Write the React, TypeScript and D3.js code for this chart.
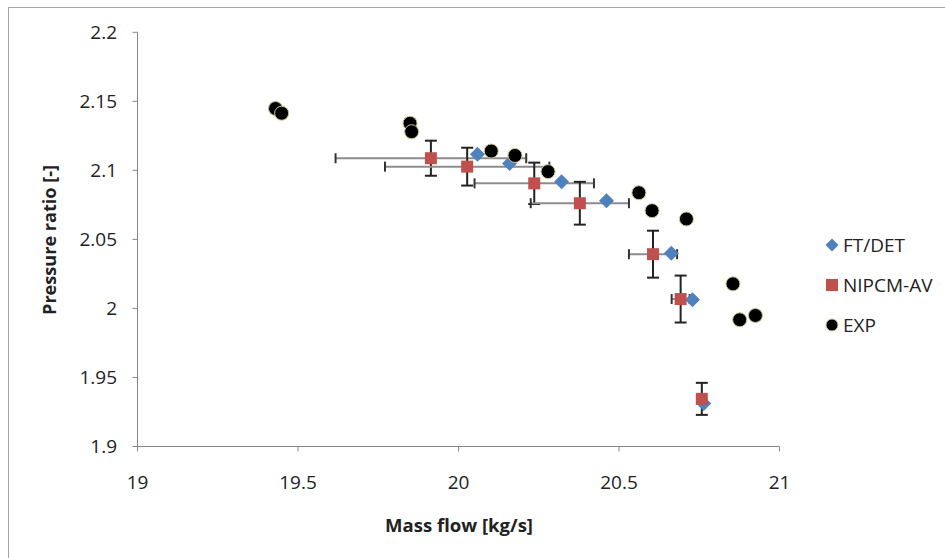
import React from "react";
import * as d3 from "d3";

const xTicks = [19, 19.5, 20, 20.5, 21];
const xTickLabels = ["19", "19.5", "20", "20.5", "21"];
const yTicks = [1.9, 1.95, 2.0, 2.05, 2.1, 2.15, 2.2];
const yTickLabels = ["1.9", "1.95", "2", "2.05", "2.1", "2.15", "2.2"];

const seriesNames = ["FT/DET", "NIPCM-AV", "EXP"];

const ftX = [20.059, 20.159, 20.321, 20.461, 20.663, 20.729, 20.764];
const ftY = [2.1117, 2.105, 2.0918, 2.078, 2.04, 2.0063, 1.9311];

const nipX = [19.914, 20.027, 20.236, 20.378, 20.606, 20.692, 20.758];
const nipY = [2.1088, 2.1027, 2.0906, 2.0762, 2.0393, 2.0068, 1.9345];
const nipErrX = [0.297, 0.256, 0.186, 0.153, 0.075, 0.028, 0];
const nipErrY = [0.0127, 0.0137, 0.015, 0.0155, 0.017, 0.017, 0.0116];

const expX = [19.43, 19.449, 19.849, 19.854, 20.102, 20.176, 20.279, 20.562, 20.603, 20.71, 20.855, 20.876, 20.925];
const expY = [2.1448, 2.1414, 2.1341, 2.128, 2.114, 2.1108, 2.0991, 2.0838, 2.0708, 2.0648, 2.0178, 1.9918, 1.9949];

const BLUE = "#4F81BD";
const RED = "#C0504D";
const FONT = "'Open Sans', 'DejaVu Sans', sans-serif";

export default function App() {
  const x = d3.scaleLinear().domain([19, 21]).range([137.5, 779.5]);
  const y = d3.scaleLinear().domain([1.9, 2.2]).range([446.5, 32.3]);
  const x0 = x(19);
  const y0 = y(1.9);

  const diamond = (cx: number, cy: number, r: number) =>
    `M${cx},${cy - r}L${cx + r},${cy}L${cx},${cy + r}L${cx - r},${cy}Z`;

  return (
    <svg
      width={945}
      height={558}
      style={{ position: "absolute", left: 0, top: 0, background: "#fff" }}
    >
      <rect x={0} y={0} width={945} height={558} fill="#fff" />
      {/* chart border */}
      <rect x={8.5} y={7.5} width={960} height={600} fill="none" stroke="#a6a6a6" strokeWidth={1} />

      {/* axes */}
      <line x1={x0} x2={x0} y1={y(2.2)} y2={y0} stroke="#868686" strokeWidth={1} />
      <line x1={x0} x2={x(21)} y1={y0} y2={y0} stroke="#868686" strokeWidth={1} />
      {yTicks.map((t, i) => (
        <g key={"yt" + i}>
          <line x1={x0 - 5} x2={x0} y1={y(t)} y2={y(t)} stroke="#868686" strokeWidth={1} />
          <text
            x={117}
            y={y(t) + 6.5}
            textAnchor="end"
            fontFamily={FONT}
            fontSize={19}
            fill="#222"
          >
            {yTickLabels[i]}
          </text>
        </g>
      ))}
      {xTicks.map((t, i) => (
        <g key={"xt" + i}>
          <line x1={x(t)} x2={x(t)} y1={y0} y2={y0 + 5} stroke="#868686" strokeWidth={1} />
          <text
            x={x(t)}
            y={489}
            textAnchor="middle"
            fontFamily={FONT}
            fontSize={19}
            fill="#222"
          >
            {xTickLabels[i]}
          </text>
        </g>
      ))}

      {/* axis titles */}
      <text
        x={459}
        y={532}
        textAnchor="middle"
        fontFamily={FONT}
        fontWeight="bold"
        fontSize={18}
        fill="#222"
        textLength={148}
        lengthAdjust="spacingAndGlyphs"
      >
        Mass flow [kg/s]
      </text>
      <text
        transform={`translate(56,240) rotate(-90)`}
        textAnchor="middle"
        fontFamily={FONT}
        fontWeight="bold"
        fontSize={18}
        fill="#222"
        textLength={150}
        lengthAdjust="spacingAndGlyphs"
      >
        Pressure ratio [-]
      </text>

      {/* error bars */}
      {nipX.map((v, i) => {
        const cx = x(v);
        const cy = y(nipY[i]);
        const xl = x(v - nipErrX[i]);
        const xr = x(v + nipErrX[i]);
        const yt = y(nipY[i] + nipErrY[i]);
        const yb = y(nipY[i] - nipErrY[i]);
        return (
          <g key={"eb" + i}>
            {nipErrX[i] > 0 && (
              <g>
                <line x1={xl} x2={xr} y1={cy} y2={cy} stroke="#8c8c8c" strokeWidth={2} />
                <line x1={xl} x2={xl} y1={cy - 5} y2={cy + 5} stroke="#333" strokeWidth={2} />
                <line x1={xr} x2={xr} y1={cy - 5} y2={cy + 5} stroke="#333" strokeWidth={2} />
              </g>
            )}
            <line x1={cx} x2={cx} y1={yt} y2={yb} stroke="#222" strokeWidth={2} />
            <line x1={cx - 6} x2={cx + 6} y1={yt} y2={yt} stroke="#222" strokeWidth={2} />
            <line x1={cx - 6} x2={cx + 6} y1={yb} y2={yb} stroke="#222" strokeWidth={2} />
          </g>
        );
      })}

      {/* FT/DET diamonds */}
      {ftX.map((v, i) => (
        <path key={"ft" + i} d={diamond(x(v), y(ftY[i]), 7.5)} fill={BLUE} />
      ))}
      {/* NIPCM-AV squares */}
      {nipX.map((v, i) => (
        <rect key={"np" + i} x={x(v) - 6} y={y(nipY[i]) - 6} width={12} height={12} fill={RED} />
      ))}
      {/* EXP circles */}
      {expX.map((v, i) => (
        <circle
          key={"ex" + i}
          cx={x(v)}
          cy={y(expY[i])}
          r={7}
          fill="#000"
          stroke="#c8c890"
          strokeWidth={1}
        />
      ))}

      {/* legend */}
      <path d={diamond(832, 245, 6.5)} fill={BLUE} />
      <text x={843} y={252} fontFamily={FONT} fontSize={19} fill="#222">
        {seriesNames[0]}
      </text>
      <rect x={826} y={279} width={12} height={12} fill={RED} />
      <text x={843} y={292} fontFamily={FONT} fontSize={19} fill="#222">
        {seriesNames[1]}
      </text>
      <circle cx={832} cy={325} r={6} fill="#000" stroke="#c8c890" strokeWidth={1} />
      <text x={843} y={332} fontFamily={FONT} fontSize={19} fill="#222">
        {seriesNames[2]}
      </text>
    </svg>
  );
}
